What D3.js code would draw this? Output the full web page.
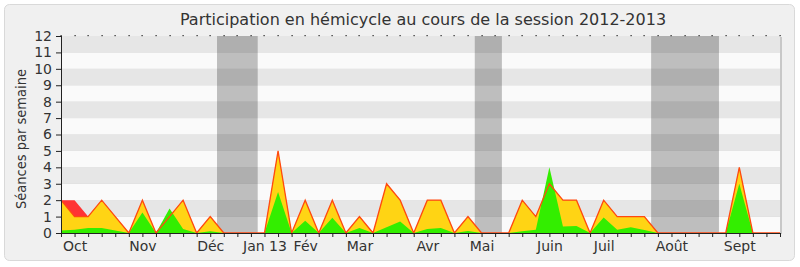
<!DOCTYPE html>
<html>
<head>
<meta charset="utf-8">
<script src="https://cdn.jsdelivr.net/npm/d3@7"></script>
<style>
body { margin: 0; background: #fff; }
text { font-family: "DejaVu Sans", sans-serif; fill: #333; }
.axis path, .axis line { stroke: #222; }
</style>
</head>
<body>
<script>
var width = 800,
    height = 267;

// weeks of the session, 0..53
var weeks = d3.range(54);

// month labels placed on a week
var monthLabels = ["Oct", "Nov", "Déc", "Jan 13", "Fév", "Mar", "Avr", "Mai", "Juin", "Juil", "Août", "Sept"];
var monthWeeks = [1, 6, 11, 15, 18, 22, 27, 31, 36, 40, 45, 50];

// vacation periods (first week, last week)
var vacStart = [12, 31, 44];
var vacEnd = [14, 32, 48];

// séances per week
var redValues = [2, 2, 1, 2, 1, 0, 2, 0, 1, 2, 0, 1, 0, 0, 0, 0, 5, 0, 2, 0,
                 2, 0, 1, 0, 3, 2, 0, 2, 2, 0, 1, 0, 0, 0, 2, 1, 3, 2, 2, 0,
                 2, 1, 1, 1, 0, 0, 0, 0, 0, 0, 4, 0, 0, 0];
var yellowValues = [2, 1, 1, 2, 1, 0, 2, 0, 1, 2, 0, 1, 0, 0, 0, 0, 5, 0, 2, 0,
                    2, 0, 1, 0, 3, 2, 0, 2, 2, 0, 1, 0, 0, 0, 2, 1, 3, 2, 2, 0,
                    2, 1, 1, 1, 0, 0, 0, 0, 0, 0, 4, 0, 0, 0];
var greenValues = [0.15, 0.2, 0.3, 0.3, 0.15, 0, 1.25, 0, 1.5, 0.25, 0, 0.1, 0, 0, 0, 0, 2.5, 0, 0.75, 0,
                   0.93, 0, 0.3, 0, 0.35, 0.7, 0, 0.25, 0.3, 0, 0.12, 0, 0, 0, 0.1, 0.2, 4, 0.4, 0.43, 0,
                   0.95, 0.2, 0.35, 0.18, 0, 0, 0, 0, 0, 0, 3, 0, 0, 0];

var yTicks = d3.range(0, 13);

var svg = d3.select("body").append("svg")
    .attr("width", width)
    .attr("height", height);

// panel
svg.append("rect")
    .attr("x", 4.5).attr("y", 4.5)
    .attr("width", 790).attr("height", 256)
    .attr("rx", 5)
    .style("fill", "#f0f0f0")
    .style("stroke", "#d9d9d9");

var x = d3.scaleLinear().domain([0, 53]).range([61, 780]);
var y = d3.scaleLinear().domain([0, 12]).range([233, 36]);

// plot shadow + stripes
svg.append("rect")
    .attr("x", 62).attr("y", 37)
    .attr("width", 720).attr("height", 197)
    .style("fill", "#c8c8c8");

svg.selectAll(".stripe")
    .data(d3.range(12))
    .enter().append("rect")
    .attr("class", "stripe")
    .attr("x", x(0))
    .attr("y", function(d) { return y(d + 1); })
    .attr("width", x(53) - x(0))
    .attr("height", function(d) { return y(d) - y(d + 1); })
    .style("fill", function(d) { return d % 2 === 1 ? "#e6e6e6" : "#fafafa"; });

// vacations
svg.selectAll(".vac")
    .data(vacStart)
    .enter().append("rect")
    .attr("class", "vac")
    .attr("x", function(d) { return x(d - 0.5); })
    .attr("y", y(12))
    .attr("width", function(d, i) { return x(vacEnd[i] + 0.5) - x(d - 0.5); })
    .attr("height", y(0) - y(12))
    .style("fill", "#000")
    .style("fill-opacity", 0.24);

function area(values) {
    return d3.area()
        .x(function(d, i) { return x(i); })
        .y0(y(0))
        .y1(function(d) { return y(d); })(values);
}

svg.append("path").attr("d", area(redValues)).style("fill", "#ff3333");
svg.append("path").attr("d", area(yellowValues)).style("fill", "#ffd414");
svg.append("path").attr("d", area(greenValues)).style("fill", "#33ee00");

svg.append("path")
    .attr("d", d3.line()
        .x(function(d, i) { return x(i); })
        .y(function(d) { return y(d); })(yellowValues))
    .style("fill", "none")
    .style("stroke", "#ff4a10")
    .style("stroke-width", 1.3);

// top dots
svg.selectAll(".dot")
    .data(weeks)
    .enter().append("rect")
    .attr("x", function(d) { return Math.round(x(d)) - 0.5; })
    .attr("y", 35)
    .attr("width", 1.2).attr("height", 1.2)
    .style("fill", "#222");

// axes
var xAxis = d3.axisBottom(x)
    .tickValues(weeks)
    .tickSize(4)
    .tickPadding(4)
    .tickFormat(function(d) {
        var k = monthWeeks.indexOf(d);
        return k >= 0 ? monthLabels[k] : "";
    });

svg.append("g")
    .attr("class", "axis")
    .attr("transform", "translate(0," + y(0) + ")")
    .call(xAxis)
    .call(function(g) { g.select(".domain").attr("d", "M" + x(0) + ",0.5H" + x(53)); })
    .selectAll("text")
    .style("font-size", "14px")
    .style("fill", "#333")
    .style("font-family", "DejaVu Sans");

var yAxis = d3.axisLeft(y)
    .tickValues(yTicks)
    .tickSize(5)
    .tickPadding(4)
    .tickFormat(d3.format("d"));

svg.append("g")
    .attr("class", "axis")
    .attr("transform", "translate(" + x(0) + ",0)")
    .call(yAxis)
    .call(function(g) { g.select(".domain").attr("d", "M0.5," + y(12) + "V" + y(0)); })
    .selectAll("text")
    .style("font-size", "14px")
    .style("fill", "#333")
    .style("font-family", "DejaVu Sans");

// title
svg.append("text")
    .attr("x", 423)
    .attr("y", 25)
    .attr("text-anchor", "middle")
    .style("font-size", "16px")
    .text("Participation en hémicycle au cours de la session 2012-2013");

// y label
svg.append("text")
    .attr("transform", "translate(26,139) rotate(-90)")
    .attr("text-anchor", "middle")
    .style("font-size", "14.5px")
    .style("font-family", "DejaVu Sans Condensed")
    .text("Séances par semaine");
</script>
</body>
</html>
